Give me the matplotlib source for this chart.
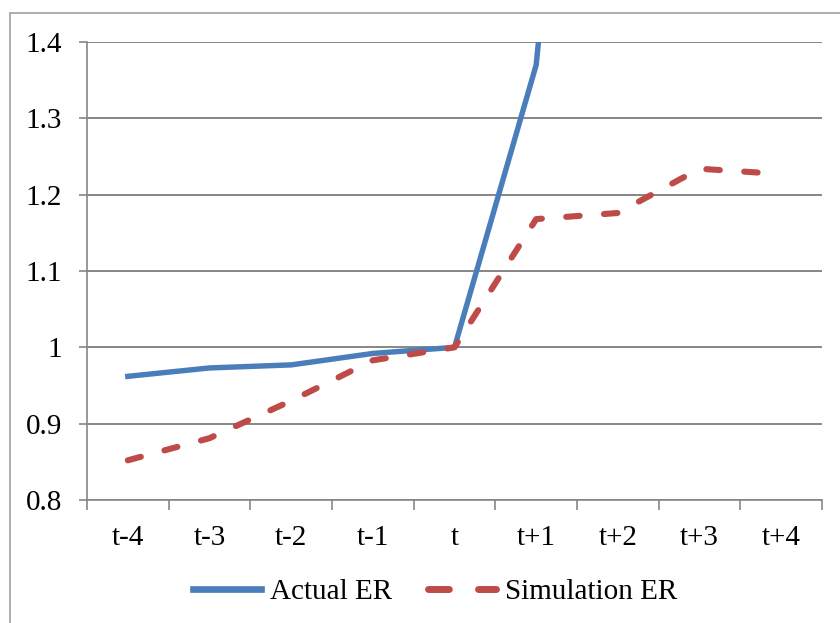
import numpy as np
import matplotlib.pyplot as plt
from matplotlib.patches import Rectangle
from matplotlib.lines import Line2D

plt.rcParams.update({
    'font.family': 'Liberation Serif',
    'font.size': 21,
})

periods = ['t-4', 't-3', 't-2', 't-1', 't', 't+1', 't+2', 't+3', 't+4']
actual_er = [0.962, 0.973, 0.977, 0.992, 1.0, 1.370, 2.44, 2.40, 2.35]
simulation_er = [0.852, 0.881, 0.930, 0.983, 1.0, 1.168, 1.176, 1.234, 1.227]
y_ticks = [0.8, 0.9, 1.0, 1.1, 1.2, 1.3, 1.4]
y_labels = ['0.8', '0.9', '1', '1.1', '1.2', '1.3', '1.4']

blue = '#4a7ebb'
red = '#be4b48'
grid = '#868686'

fig = plt.figure(figsize=(8.4, 6.23), dpi=100)
ax = fig.add_axes([87 / 840, 1 - 500 / 623, 735 / 840, 458 / 623])

# outer chart frame (runs off the right and bottom of the picture)
fig.patches.append(Rectangle((10 / 840, -0.1), 1.0, 1 - 13 / 623 + 0.1,
                             transform=fig.transFigure, fill=False,
                             edgecolor='#a0a0a0', linewidth=1.2))

x = np.arange(len(periods))
ax.plot(x, actual_er, color=blue, linewidth=3.9, solid_joinstyle='round', zorder=3)
ax.plot(x, simulation_er, color=red, linewidth=4.4, linestyle=(0, (2.2, 4.0)),
        dash_capstyle='round', zorder=3)

ax.set_xlim(-0.5, len(periods) - 0.5)
ax.set_ylim(0.8, 1.4)
ax.set_yticks(y_ticks, y_labels)
ax.yaxis.grid(True, color=grid, linewidth=1.4)
ax.set_axisbelow(True)

ax.set_xticks(x, periods)
ax.set_xticks(np.arange(len(periods) + 1) - 0.5, minor=True)
ax.tick_params(axis='x', which='major', length=0, pad=18)
ax.tick_params(axis='x', which='minor', length=7.5, width=1.2, color=grid, direction='out')
ax.tick_params(axis='y', length=6, width=1.2, color=grid, direction='out', pad=12)

for side in ['top', 'right']:
    ax.spines[side].set_visible(False)
for side in ['left', 'bottom']:
    ax.spines[side].set_color(grid)
    ax.spines[side].set_linewidth(1.2)

handles = [
    Line2D([], [], color=blue, linewidth=4.8),
    Line2D([], [], color=red, linewidth=5, linestyle=(0, (3.0, 4.2)), dash_capstyle='round'),
]
fig.legend(handles, ['Actual ER', 'Simulation ER'], loc='center',
           bbox_to_anchor=(435 / 840, 1 - 592 / 623), ncol=2, frameon=False,
           handlelength=2.33, handletextpad=0.3, columnspacing=1.25)

fig.savefig('out.png', dpi=100)
